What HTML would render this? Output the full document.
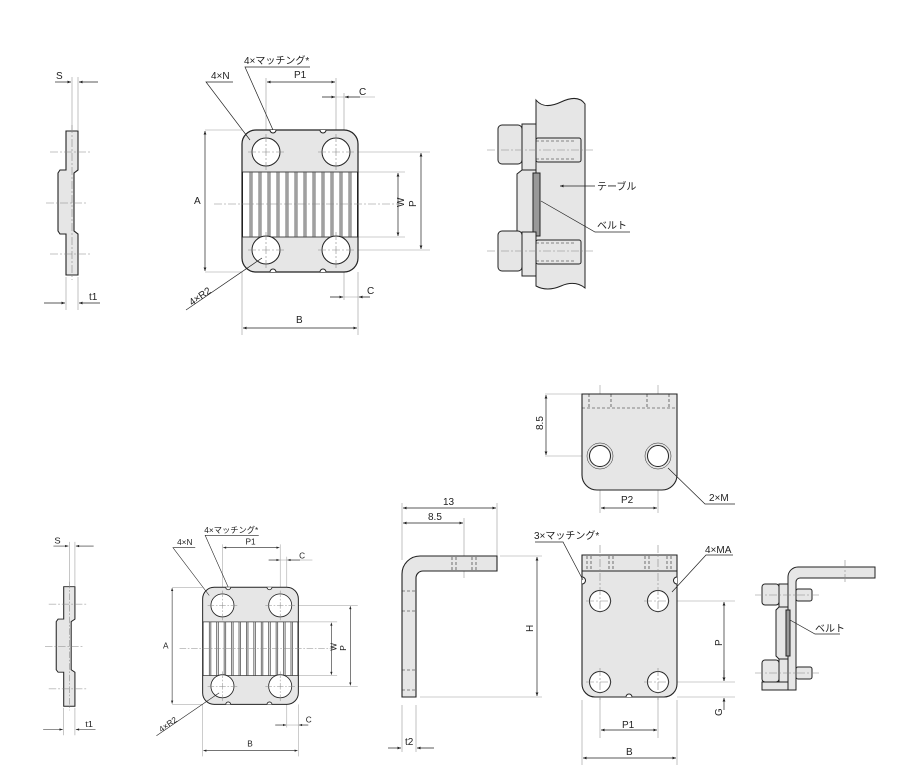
<!DOCTYPE html><html><head><style>body{margin:0;background:#fff}svg{display:block}text{font-family:"Liberation Sans","Noto Sans CJK JP",sans-serif;font-size:10px;fill:#222}</style></head><body>
<svg width="900" height="780" viewBox="0 0 900 780" xmlns="http://www.w3.org/2000/svg">
<defs>
<marker id="a" viewBox="0 0 10 10" refX="10" refY="5" markerWidth="7" markerHeight="5" orient="auto-start-reverse"><path d="M0,1L10,5L0,9z" fill="#222"/></marker>
<g id="plate">
 <g stroke="#999" stroke-width="0.6" fill="none">
  <line x1="205" y1="130" x2="242" y2="130"/><line x1="205" y1="272" x2="242" y2="272"/>
  <line x1="266" y1="78" x2="266" y2="140"/><line x1="336" y1="78" x2="336" y2="140"/>
  <line x1="344" y1="93" x2="344" y2="300"/><line x1="358" y1="272" x2="358" y2="335"/><line x1="242" y1="272" x2="242" y2="335"/>
  <line x1="358" y1="152" x2="430" y2="152"/><line x1="358" y1="250" x2="430" y2="250"/>
  <line x1="358" y1="172" x2="405" y2="172"/><line x1="358" y1="237" x2="405" y2="237"/>
  <line x1="322" y1="97" x2="375" y2="97"/><line x1="330" y1="297" x2="370" y2="297"/>
 </g>
 <rect x="242" y="130" width="116" height="142" rx="14" fill="#e6e6e6" stroke="#222" stroke-width="1.2"/>
 <rect x="242.6" y="172" width="114.8" height="65" fill="#fff" stroke="#222" stroke-width="0.8"/>
 <g stroke="#444" stroke-width="0.8" fill="#ddd">
  <rect x="250" y="172" width="2" height="65"/><rect x="259" y="172" width="2" height="65"/><rect x="268" y="172" width="2" height="65"/><rect x="277" y="172" width="2" height="65"/><rect x="286" y="172" width="2" height="65"/><rect x="295" y="172" width="2" height="65"/><rect x="304" y="172" width="2" height="65"/><rect x="313" y="172" width="2" height="65"/><rect x="322" y="172" width="2" height="65"/><rect x="331" y="172" width="2" height="65"/><rect x="340" y="172" width="2" height="65"/><rect x="349" y="172" width="2" height="65"/>
 </g>
 <g fill="#fff" stroke="#222" stroke-width="1"><circle cx="266" cy="152" r="14"/><circle cx="336" cy="152" r="14"/><circle cx="266" cy="250" r="14"/><circle cx="336" cy="250" r="14"/>
  <path d="M270,130a3,3 0 0 0 6,0"/><path d="M320,130a3,3 0 0 0 6,0"/><path d="M270,272a3,3 0 0 1 6,0"/><path d="M320,272a3,3 0 0 1 6,0"/></g>
 <g stroke="#888" stroke-width="0.6" stroke-dasharray="8,2,2,2" fill="none">
  <line x1="214" y1="204" x2="400" y2="204"/><line x1="248" y1="152" x2="284" y2="152"/><line x1="318" y1="152" x2="354" y2="152"/><line x1="248" y1="250" x2="284" y2="250"/><line x1="318" y1="250" x2="354" y2="250"/>
  <line x1="266" y1="134" x2="266" y2="170"/><line x1="336" y1="134" x2="336" y2="170"/><line x1="266" y1="232" x2="266" y2="268"/><line x1="336" y1="232" x2="336" y2="268"/>
 </g>
 <g stroke="#222" stroke-width="0.7" fill="none">
  <line x1="205" y1="131" x2="205" y2="271" marker-start="url(#a)" marker-end="url(#a)"/>
  <line x1="267" y1="82" x2="335" y2="82" marker-start="url(#a)" marker-end="url(#a)"/>
  <line x1="398" y1="173" x2="398" y2="236" marker-start="url(#a)" marker-end="url(#a)"/>
  <line x1="421" y1="153" x2="421" y2="249" marker-start="url(#a)" marker-end="url(#a)"/>
  <line x1="243" y1="328" x2="357" y2="328" marker-start="url(#a)" marker-end="url(#a)"/>
  <line x1="322" y1="97" x2="335" y2="97" marker-end="url(#a)"/><line x1="360" y1="97" x2="345" y2="97" marker-end="url(#a)"/>
  <line x1="330" y1="297" x2="343" y2="297" marker-end="url(#a)"/><line x1="370" y1="297" x2="359" y2="297" marker-end="url(#a)"/>
  <path d="M233,82H206L250,140"/><path d="M310,67H245L273,130"/><path d="M186,310L262,258"/>
 </g>
 <text x="194" y="204">A</text><text x="294" y="78">P1</text><text x="359" y="95">C</text><text x="367" y="294">C</text><text x="296" y="323">B</text>
 <text x="211" y="79">4×N</text><text x="244" y="64">4×マッチング*</text>
 <text transform="translate(404,207) rotate(-90)">W</text><text transform="translate(416,207) rotate(-90)">P</text>
 <text transform="translate(192,306) rotate(-35)">4×R2</text>
</g>
<g id="side" stroke="#222">
 <g stroke="#999" stroke-width="0.6"><line x1="72" y1="77" x2="72" y2="130"/><line x1="78" y1="77" x2="78" y2="130"/><line x1="66" y1="277" x2="66" y2="310"/><line x1="78" y1="277" x2="78" y2="310"/></g>
 <path d="M66,131H78V170L74,173V231L78,234V275H66V234H60L58,231V173L60,170H66Z" fill="#e6e6e6" stroke-width="1.1"/>
 <g stroke="#888" stroke-width="0.6" stroke-dasharray="8,2,2,2"><line x1="50" y1="152" x2="92" y2="152"/><line x1="46" y1="203" x2="88" y2="203"/><line x1="50" y1="254" x2="92" y2="254"/><line x1="72" y1="125" x2="72" y2="280"/></g>
 <g stroke-width="0.7"><line x1="55" y1="82" x2="71" y2="82" marker-end="url(#a)"/><line x1="98" y1="82" x2="79" y2="82" marker-end="url(#a)"/><line x1="44" y1="303" x2="65" y2="303" marker-end="url(#a)"/><line x1="100" y1="303" x2="79" y2="303" marker-end="url(#a)"/></g>
 <text x="56" y="79" stroke="none">S</text><text x="89" y="300" stroke="none">t1</text>
</g>
</defs>
<use href="#plate"/>
<use href="#side"/>
<use href="#plate" transform="translate(3,480) scale(0.825)"/>
<use href="#side" transform="translate(2,478) scale(0.935,0.83)"/>

<!-- top right assembly -->
<g stroke="#222" stroke-width="1">
 <path d="M536,100q8,10 25,2t24,2V288q-10,-8 -24,-2t-25,0Z" fill="#e6e6e6"/>
 <rect x="498" y="125" width="24" height="39" rx="4" fill="#e6e6e6"/>
 <rect x="522" y="124" width="14" height="46" fill="#e6e6e6"/>
 <rect x="536" y="138" width="45" height="24" rx="2" fill="#e6e6e6"/>
 <path d="M522,170H536V237H522L517,233V174Z" fill="#e6e6e6"/>
 <rect x="533" y="173" width="7" height="63" fill="#999"/>
 <rect x="498" y="231" width="24" height="40" rx="4" fill="#e6e6e6"/>
 <rect x="522" y="232" width="14" height="44" fill="#e6e6e6"/>
 <rect x="536" y="240" width="45" height="24" rx="2" fill="#e6e6e6"/>
 <g stroke-dasharray="3,2" stroke-width="0.6" fill="none"><line x1="536" y1="141" x2="575" y2="141"/><line x1="536" y1="159" x2="575" y2="159"/><line x1="536" y1="243" x2="575" y2="243"/><line x1="536" y1="261" x2="575" y2="261"/></g>
 <g stroke="#888" stroke-width="0.6" stroke-dasharray="8,2,2,2"><line x1="487" y1="150" x2="595" y2="150"/><line x1="487" y1="251" x2="595" y2="251"/></g>
 <g stroke-width="0.7" fill="none"><line x1="595" y1="186" x2="560" y2="186" marker-end="url(#a)"/><path d="M630,232H595L541,201"/></g>
 <text x="597" y="190" stroke="none">テーブル</text><text x="597" y="229" stroke="none">ベルト</text>
</g>

<!-- P2 plate -->
<g stroke="#222">
 <g stroke="#999" stroke-width="0.6"><line x1="545" y1="394" x2="582" y2="394"/><line x1="545" y1="456" x2="590" y2="456"/><line x1="600" y1="385" x2="600" y2="513"/><line x1="658" y1="385" x2="658" y2="513"/></g>
 <path d="M582,394H677V475a15,15 0 0 1 -15,15H597a15,15 0 0 1 -15,-15Z" fill="#e6e6e6" stroke-width="1.1"/>
 <g stroke-dasharray="3,2" stroke-width="0.6" fill="none"><line x1="582" y1="408" x2="677" y2="408"/><line x1="589" y1="394" x2="589" y2="408"/><line x1="611" y1="394" x2="611" y2="408"/><line x1="647" y1="394" x2="647" y2="408"/><line x1="669" y1="394" x2="669" y2="408"/></g>
 <g fill="#fff" stroke-width="1"><circle cx="600" cy="456" r="10.5"/><circle cx="658" cy="456" r="10.5"/></g>
 <g fill="none" stroke-width="0.5"><circle cx="600" cy="456" r="13"/><circle cx="658" cy="456" r="13"/></g>
 <g stroke-width="0.7" fill="none"><line x1="546" y1="395" x2="546" y2="455" marker-start="url(#a)" marker-end="url(#a)"/><line x1="601" y1="508" x2="657" y2="508" marker-start="url(#a)" marker-end="url(#a)"/><path d="M735,504H705L668,468"/></g>
 <text transform="translate(543,430) rotate(-90)" stroke="none">8.5</text><text x="621" y="503" stroke="none">P2</text><text x="709" y="501" stroke="none">2×M</text>
</g>

<!-- L bracket -->
<g stroke="#222">
 <g stroke="#999" stroke-width="0.6"><line x1="402" y1="503" x2="402" y2="560"/><line x1="497" y1="503" x2="497" y2="556"/><line x1="464" y1="518" x2="464" y2="578"/><line x1="500" y1="556" x2="542" y2="556"/><line x1="420" y1="697" x2="542" y2="697"/><line x1="402" y1="705" x2="402" y2="752"/><line x1="416" y1="705" x2="416" y2="752"/></g>
 <path d="M402,697V574a18,18 0 0 1 18,-18H497V571H423a7,7 0 0 0 -7,7V697Z" fill="#e6e6e6" stroke-width="1.1"/>
 <g stroke-dasharray="3,2" stroke-width="0.6"><line x1="452" y1="557" x2="452" y2="571"/><line x1="456" y1="557" x2="456" y2="571"/><line x1="472" y1="557" x2="472" y2="571"/><line x1="476" y1="557" x2="476" y2="571"/><line x1="402" y1="591" x2="416" y2="591"/><line x1="402" y1="611" x2="416" y2="611"/><line x1="402" y1="670" x2="416" y2="670"/><line x1="402" y1="690" x2="416" y2="690"/></g>
 <g stroke-width="0.7"><line x1="403" y1="508" x2="496" y2="508" marker-start="url(#a)" marker-end="url(#a)"/><line x1="403" y1="523" x2="463" y2="523" marker-start="url(#a)" marker-end="url(#a)"/><line x1="537" y1="557" x2="537" y2="696" marker-start="url(#a)" marker-end="url(#a)"/><line x1="388" y1="748" x2="401" y2="748" marker-end="url(#a)"/><line x1="434" y1="748" x2="417" y2="748" marker-end="url(#a)"/></g>
 <text x="443" y="505" stroke="none">13</text><text x="428" y="520" stroke="none">8.5</text><text transform="translate(533,632) rotate(-90)" stroke="none">H</text><text x="405" y="745" stroke="none">t2</text>
</g>

<!-- bracket front -->
<g stroke="#222">
 <g stroke="#999" stroke-width="0.6"><line x1="677" y1="601" x2="735" y2="601"/><line x1="677" y1="682" x2="735" y2="682"/><line x1="677" y1="697" x2="735" y2="697"/><line x1="582" y1="700" x2="582" y2="765"/><line x1="677" y1="700" x2="677" y2="765"/><line x1="600" y1="690" x2="600" y2="738"/><line x1="658" y1="690" x2="658" y2="738"/></g>
 <path d="M582,555H677V684a13,13 0 0 1 -13,13H595a13,13 0 0 1 -13,-13Z" fill="#e6e6e6" stroke-width="1.1"/>
 <line x1="582" y1="571" x2="677" y2="571" stroke-width="1"/>
 <g stroke-dasharray="3,2" stroke-width="0.6"><line x1="587" y1="556" x2="587" y2="571"/><line x1="591" y1="556" x2="591" y2="571"/><line x1="609" y1="556" x2="609" y2="571"/><line x1="613" y1="556" x2="613" y2="571"/><line x1="645" y1="556" x2="645" y2="571"/><line x1="649" y1="556" x2="649" y2="571"/><line x1="667" y1="556" x2="667" y2="571"/><line x1="671" y1="556" x2="671" y2="571"/></g>
 <g fill="#fff" stroke-width="1"><circle cx="600" cy="601" r="10.5"/><circle cx="658" cy="601" r="10.5"/><circle cx="600" cy="682" r="10.5"/><circle cx="658" cy="682" r="10.5"/><path d="M582,577a3,3 0 0 1 0,7"/><path d="M677,577a3,3 0 0 0 0,7"/><path d="M626,697a3,3 0 0 1 6,0"/></g>
 <g stroke="#888" stroke-width="0.6" stroke-dasharray="8,2,2,2"><line x1="600" y1="545" x2="600" y2="615"/><line x1="658" y1="545" x2="658" y2="615"/><line x1="600" y1="668" x2="600" y2="700"/><line x1="658" y1="668" x2="658" y2="700"/><line x1="586" y1="601" x2="614" y2="601"/><line x1="644" y1="601" x2="672" y2="601"/><line x1="586" y1="682" x2="614" y2="682"/><line x1="644" y1="682" x2="672" y2="682"/></g>
 <g stroke-width="0.7" fill="none"><line x1="724" y1="602" x2="724" y2="681" marker-start="url(#a)" marker-end="url(#a)"/><line x1="724" y1="710" x2="724" y2="698" marker-end="url(#a)"/><line x1="724" y1="670" x2="724" y2="681" marker-end="url(#a)"/><line x1="601" y1="730" x2="657" y2="730" marker-start="url(#a)" marker-end="url(#a)"/><line x1="583" y1="758" x2="676" y2="758" marker-start="url(#a)" marker-end="url(#a)"/><path d="M535,542H563L583,580"/><path d="M733,555H706L672,592"/></g>
 <text transform="translate(722,646) rotate(-90)" stroke="none">P</text><text transform="translate(722,716) rotate(-90)" stroke="none">G</text><text x="622" y="728" stroke="none">P1</text><text x="626" y="755" stroke="none">B</text>
 <text x="534" y="539" stroke="none">3×マッチング*</text><text x="705" y="553" stroke="none">4×MA</text>
</g>

<!-- small right assembly -->
<g stroke="#222">
 <path d="M788,690V577a10,10 0 0 1 10,-10H875V578H800a4,4 0 0 0 -4,4V690Z" fill="#e6e6e6" stroke-width="1"/>
 <rect x="762" y="584" width="17" height="21" rx="3" fill="#e6e6e6"/><rect x="779" y="584" width="9" height="23" fill="#e6e6e6"/><rect x="796" y="589" width="16" height="12" rx="2" fill="#e6e6e6"/>
 <path d="M779,607H788V659H779L776,656V610Z" fill="#e6e6e6"/><rect x="786" y="610" width="4" height="46" fill="#999"/>
 <rect x="762" y="660" width="17" height="22" rx="3" fill="#e6e6e6"/><rect x="779" y="659" width="9" height="31" fill="#e6e6e6"/><rect x="796" y="667" width="16" height="12" rx="2" fill="#e6e6e6"/>
 <rect x="762" y="682" width="26" height="8" fill="#e6e6e6"/>
 <g stroke="#888" stroke-width="0.6" stroke-dasharray="8,2,2,2"><line x1="755" y1="595" x2="820" y2="595"/><line x1="755" y1="673" x2="820" y2="673"/><line x1="845" y1="560" x2="845" y2="582"/></g>
 <g stroke-width="0.7" fill="none"><path d="M840,634H815L790,620"/></g>
 <text x="815" y="632" stroke="none">ベルト</text>
</g>
</svg></body></html>
